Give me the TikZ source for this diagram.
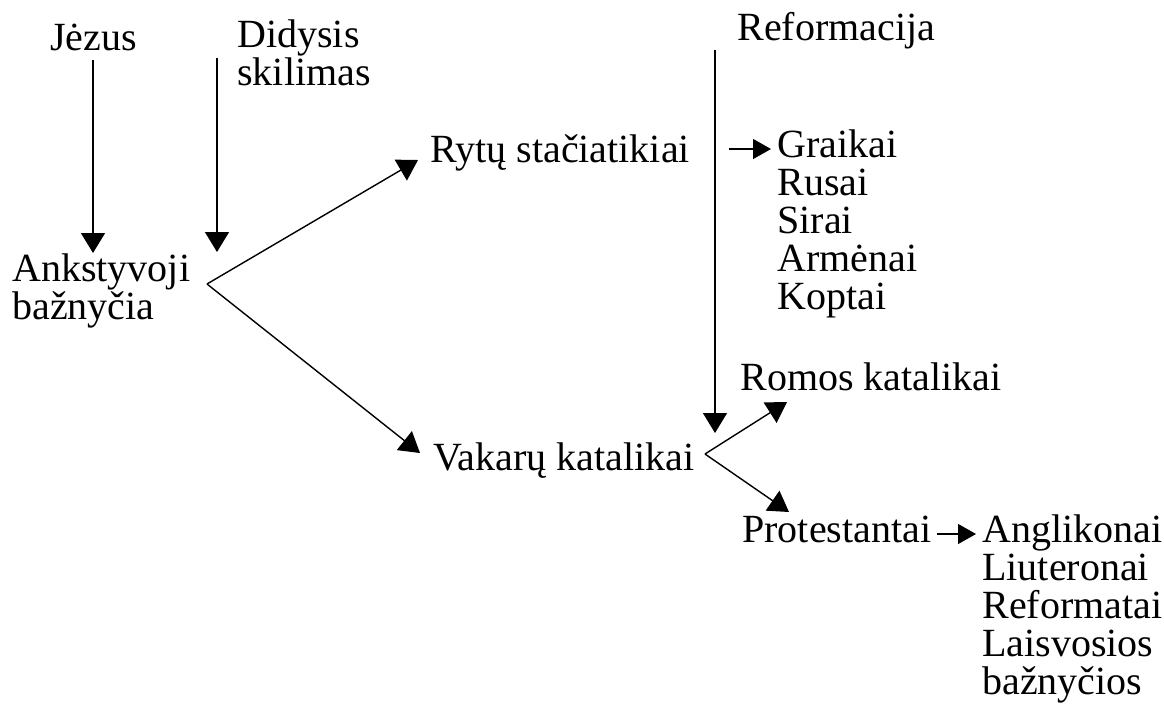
\documentclass[tikz,border=0pt]{standalone}
\usepackage{fontspec}
\setmainfont{Liberation Serif}
\usetikzlibrary{positioning,arrows.meta,calc}

\begin{document}
\begin{tikzpicture}[
  x=0.5pt,y=-0.5pt,
  font=\fontsize{20}{19}\selectfont,
  txt/.style={anchor=base west,inner sep=0pt,align=left},
  arr/.style={-{Triangle[length=10pt,width=12pt]},line width=0.7pt},
  sarr/.style={-{Triangle[length=9pt,width=10pt]},line width=0.7pt},
]
\useasboundingbox (0,0) rectangle (1164,703);

% ------------------------------------------------------------ sources
\node[txt] (jez) at (50,50)  {Jėzus};
\node[txt] (did) at (237,85) {Didysis\\skilimas};
\node[txt] (ref) at (737,40) {Reformacija};

% ------------------------------------------------------------ churches
\node[txt] (ank) at (12,319)  {Ankstyvoji\\bažnyčia};
\node[txt] (ryt) at (430,162) {Rytų stačiatikiai};
\node[txt] (vak) at (433,470) {Vakarų katalikai};
\node[txt] (rom) at (740,390) {Romos katalikai};
\node[txt] (pro) at (742,542) {Protestantai};

% lists, one line per node
\foreach \t [count=\i] in {Graikai,Rusai,Sirai,Armėnai,Koptai}
  \node[txt] (gra\i) at (777,{157+38*(\i-1)}) {\t};
\foreach \t [count=\i] in {Anglikonai,Liuteronai,Reformatai,Laisvosios,bažnyčios}
  \node[txt] (ang\i) at (982,{542+38*(\i-1)}) {\t};

% ------------------------------------------------------------ time arrows
\coordinate (jtop) at (93,60);   \coordinate (jbot) at (93,253);
\coordinate (dtop) at (217,58);  \coordinate (dbot) at (217,252);
\coordinate (rtop) at (715,50);  \coordinate (rbot) at (715,433);

\draw[arr] (jtop) -- (jbot);
\draw[arr] (dtop) -- (dbot);
\draw[arr] (rtop) -- (rbot);

% ------------------------------------------------------------ splits
\coordinate (v1) at (207,284);
\coordinate (v2) at (705,454);

\draw[arr] (v1) -- ($(ryt.base west)+(-12,-2)$);
\draw[arr] (v1) -- ($(vak.base west)+(-13,-17)$);
\draw[arr] (v2) -- ($(rom.base west)+(47,12)$);
\draw[arr] (v2) -- ($(pro.base west)+(47,-30)$);

% small arrows into the lists
\draw[sarr] ($(gra1.base west)+(-48,-8)$) -- ($(gra1.base west)+(-6,-8)$);
\draw[sarr] ($(ang1.base west)+(-45,-8)$) -- ($(ang1.base west)+(-6,-8)$);

\end{tikzpicture}
\end{document}
